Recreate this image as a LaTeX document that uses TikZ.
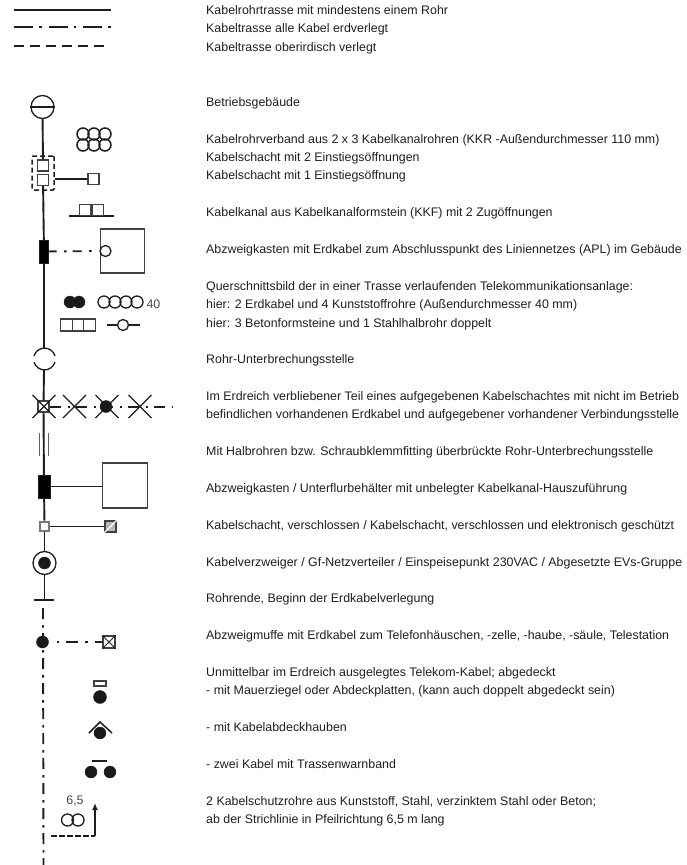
\documentclass[tikz,border=0pt]{standalone}
\usepackage{fontspec}
\setmainfont{Liberation Sans}
\usetikzlibrary{arrows.meta,calc,positioning}
\definecolor{InkGray}{HTML}{1E1E1E}
\tikzset{
  lbl/.style={anchor=base west, inner sep=0pt, text=InkGray, font=\fontsize{12.4}{14}\selectfont},
  symtxt/.style={inner sep=0pt, text=InkGray!80, font=\fontsize{12.4}{14}\selectfont},
  trasse/.style={line width=1.9pt, draw=InkGray},
  strich/.style={trasse, dash pattern=on 19pt off 6pt on 2.5pt off 7pt},
  strichv/.style={trasse, dash pattern=on 11pt off 6pt on 2.5pt off 5.5pt},
  gestr/.style={trasse, dash pattern=on 9.5pt off 6.5pt},
  thinl/.style={line width=1.3pt, draw=InkGray},
  openbox/.style={draw=InkGray!85, line width=1.3pt, fill=white, inner sep=0pt, minimum size=11pt, rectangle},
  bigbox/.style={openbox, minimum size=44pt},
  darkbox/.style={draw=InkGray, fill=black, inner sep=0pt, minimum width=10pt, minimum height=23pt, rectangle},
  pipe/.style={circle, draw=InkGray, line width=1.3pt, fill=white, inner sep=0pt, minimum size=12pt},
  cable/.style={circle, draw=InkGray, fill=black!90, inner sep=0pt, minimum size=12pt}
}
\begin{document}
\begin{tikzpicture}[x=1pt,y=-1pt]
  \useasboundingbox (0,0) rectangle (687,865);
  % Legende Linien
  \coordinate (la) at (14,10);  \coordinate (lb) at (111,10);
  \coordinate (lc) at (14,27);  \coordinate (ld) at (111,27);
  \coordinate (le) at (14,46);  \coordinate (lf) at (105,46);
  \draw[trasse] (la) -- (lb);
  \draw[strich] (lc) -- (ld);
  \draw[gestr] (le) -- (lf);

  % Betriebsgebaeude, Schacht
  \node[pipe, minimum size=23pt] (geb) at (42.5,107) {};
  \draw[thinl] (geb.west) -- (geb.east);
  \node[openbox] (sa) at (43,165.5) {};
  \node[openbox] (sb) at (43,180) {};
  \node[draw=InkGray, line width=1.5pt, dash pattern=on 5pt off 3pt, rounded corners=1pt, minimum width=22pt, minimum height=34pt, inner sep=0pt] (schacht) at (43,173) {};
  \draw[trasse] (geb) -- (sa);
  \node[openbox] (sc) at (93.5,179) {};
  \draw[trasse] (schacht.east |- sc) -- (sc);
  \foreach \cx/\cy in {83/134,94/134,105/134,83/145,94/145,105/145}
    \node[pipe, fill=none, line width=1.5pt] at (\cx,\cy) {};

  % Kabelkanal
  \coordinate (kka) at (69,216); \coordinate (kkb) at (114,216);
  \draw[thinl] (kka) -- (kkb);
  \node[openbox, fill=none, minimum width=11.5pt, minimum height=11pt, anchor=south east] at (91.5,216) {};
  \node[openbox, fill=none, minimum width=11.5pt, minimum height=11pt, anchor=south west] at (91.5,216) {};

  % Abzweigkasten APL
  \node[darkbox, minimum width=9pt] (ab) at (44,251.5) {};
  \node[bigbox] (apl) at (122.5,251) {};
  \node[pipe, minimum size=11pt] (aplc) at (105.5,251) {};
  \draw[trasse, dash pattern=on 8pt off 7.5pt on 2.5pt off 6pt on 9pt off 7.5pt on 2.5pt off 100pt] (ab) -- (aplc);
  \coordinate (ru) at (44,348);
  \coordinate (ro) at (44,370);
  \draw[trasse] (sb) -- (ab);
  \draw[trasse] (ab) -- (ru);

  % Querschnitt
  \node[cable] at (70,302) {};
  \node[cable] at (79,302) {};
  \foreach \cx in {104,115,126,137}
    \node[pipe, fill=none] at (\cx,302) {};
  \node[symtxt] (qa) at (153.5,304.5) {40};
  \foreach \cx in {66.5,78,89.5}
    \node[openbox, minimum width=11.5pt, minimum height=12pt] at (\cx,325) {};
  \coordinate (sha) at (107,325); \coordinate (shb) at (140,325);
  \draw[thinl] (sha) -- (shb);
  \node[pipe, minimum size=11pt] (sh) at (123,325) {};

  % Rohr-Unterbrechung
  \draw[thinl] (34,356) .. controls (37,345.5) and (52,345.5) .. (55,356);
  \draw[thinl] (34,362) .. controls (37,372.5) and (52,372.5) .. (55,362);

  % aufgegebener Schacht
  \node[openbox, line width=1.4pt] (xs) at (43.5,406.5) {};
  \coordinate (xe) at (172,407);
  \draw[trasse, dash pattern=on 11pt off 7pt on 2pt off 6pt] (xs.east |- xe) -- (xe);
  \foreach \cx in {44,74.5,107,140}
    \draw[thinl] (\cx-11.5,395) -- (\cx+11.5,418) (\cx-11.5,418) -- (\cx+11.5,395);
  \node[cable] (xc) at (106,406.5) {};
  \draw[trasse] (ro) -- (xs);

  % ueberbrueckt, Abzweigkasten
  \node[darkbox, minimum width=12pt] (ub) at (44,486.5) {};
  \draw[trasse] (xs) -- (ub);
  \draw[thinl, draw=InkGray!70] (39.5,433) -- (39.5,456);
  \draw[thinl, draw=InkGray!70] (48.5,433) -- (48.5,456);
  \node[bigbox, minimum size=45pt] (hz) at (125,485.5) {};
  \draw[trasse] (ub) -- (hz.west |- ub);

  % Kabelschacht verschlossen
  \node[openbox, draw=InkGray!60, line width=2.2pt, minimum size=9.5pt] (vs) at (44.5,526.5) {};
  \node[openbox, fill=gray!55, minimum size=11pt] (vg) at (110.5,526.5) {};
  \draw[thinl, white] (vg.south west) -- (vg.north east);
  \draw[trasse] (vs) -- (vg);
  \draw[trasse] (ub) -- (vs);

  % Kabelverzweiger
  \node[pipe, minimum size=23pt] (kvz) at (44.5,563) {};
  \node[cable] (kvzc) at (44.5,563) {};
  \draw[trasse] (vs) -- (kvz);
  \coordinate (ta) at (34,600); \coordinate (tb) at (54,600); \coordinate (tm) at (44.5,600);
  \draw[trasse] (kvz) -- (tm);
  \draw[trasse] (ta) -- (tb);

  % Erdkabel
  \coordinate (ev) at (43,608); \coordinate (ee) at (43.5,865);
  \draw[strichv] (ev) -- (ee);
  \node[cable] (mu) at (42.5,642) {};
  \node[openbox, minimum size=12pt] (te) at (109,642) {};
  \draw[thinl, line width=1pt] (te.north west) -- (te.south east) (te.south west) -- (te.north east);
  \draw[trasse, dash pattern=on 0pt off 8pt on 2.5pt off 7pt on 12pt off 7pt on 2.5pt off 7pt on 9pt off 100pt] (mu) -- (te);

  % Abdeckungen
  \node[openbox, minimum width=12pt, minimum height=5pt] (zg) at (100,683.5) {};
  \node[cable, minimum size=13pt] (ea) at (100,697) {};
  \node[cable] (eb) at (100,733) {};
  \coordinate (ha) at (89,733); \coordinate (hb) at (100,722); \coordinate (hc) at (112,733);
  \draw[thinl, line width=1.5pt] (ha) -- (hb) -- (hc);
  \node[cable] (ec) at (91,772) {};
  \node[cable] (ed) at (110,772) {};
  \coordinate (wa) at (92,761); \coordinate (wb) at (107,761);
  \draw[thinl] (wa) -- (wb);

  % Schutzrohre
  \node[symtxt] (lng) at (75,801) {6,5};
  \node[pipe, fill=none] at (67.5,820) {};
  \node[pipe, fill=none] at (78,820) {};
  \coordinate (pa) at (51,836); \coordinate (pb) at (95,836); \coordinate (pc) at (95,803);
  \draw[trasse, line width=1.3pt, dash pattern=on 5.5pt off 2.5pt] (pa) -- (pb);
  \draw[-{Latex[length=7pt,width=6pt]}, thinl, line width=1.5pt] (pb) -- (pc);

  % Texte
  \foreach \ypos/\txt in {
    14/{Kabelrohrtrasse mit mindestens einem Rohr},
    32.5/{Kabeltrasse alle Kabel erdverlegt},
    51/{Kabeltrasse oberirdisch verlegt},
    106/{Betriebsgebäude},
    143/{Kabelrohrverband aus 2 x 3 Kabelkanalrohren (KKR -Außendurchmesser 110 mm)},
    161.5/{Kabelschacht mit 2 Einstiegsöffnungen},
    179.5/{Kabelschacht mit 1 Einstiegsöffnung},
    216.5/{Kabelkanal aus Kabelkanalformstein (KKF) mit 2 Zugöffnungen},
    253/{Abzweigkasten mit Erdkabel zum Abschlusspunkt des Liniennetzes (APL) im Gebäude},
    290/{Querschnittsbild der in einer Trasse verlaufenden Telekommunikationsanlage:},
    308.5/{hier: 2 Erdkabel und 4 Kunststoffrohre (Außendurchmesser 40 mm)},
    327/{hier: 3 Betonformsteine und 1 Stahlhalbrohr doppelt},
    363.5/{Rohr-Unterbrechungsstelle},
    400.5/{Im Erdreich verbliebener Teil eines aufgegebenen Kabelschachtes mit nicht im Betrieb},
    418.5/{befindlichen vorhandenen Erdkabel und aufgegebener vorhandener Verbindungsstelle},
    455.5/{Mit Halbrohren bzw. Schraubklemmfitting überbrückte Rohr-Unterbrechungsstelle},
    492.5/{Abzweigkasten / Unterflurbehälter mit unbelegter Kabelkanal-Hauszuführung},
    529/{Kabelschacht, verschlossen / Kabelschacht, verschlossen und elektronisch geschützt},
    566/{Kabelverzweiger / Gf-Netzverteiler / Einspeisepunkt 230VAC / Abgesetzte EVs-Gruppe},
    602.5/{Rohrende, Beginn der Erdkabelverlegung},
    639/{Abzweigmuffe mit Erdkabel zum Telefonhäuschen, -zelle, -haube, -säule, Telestation},
    676/{Unmittelbar im Erdreich ausgelegtes Telekom-Kabel; abgedeckt},
    694/{- mit Mauerziegel oder Abdeckplatten, (kann auch doppelt abgedeckt sein)},
    731.5/{- mit Kabelabdeckhauben},
    768/{- zwei Kabel mit Trassenwarnband},
    805/{2 Kabelschutzrohre aus Kunststoff, Stahl, verzinktem Stahl oder Beton;},
    823/{ab der Strichlinie in Pfeilrichtung 6,5 m lang}}
    \node[lbl] at (206,\ypos) {\txt};
\end{tikzpicture}
\end{document}
